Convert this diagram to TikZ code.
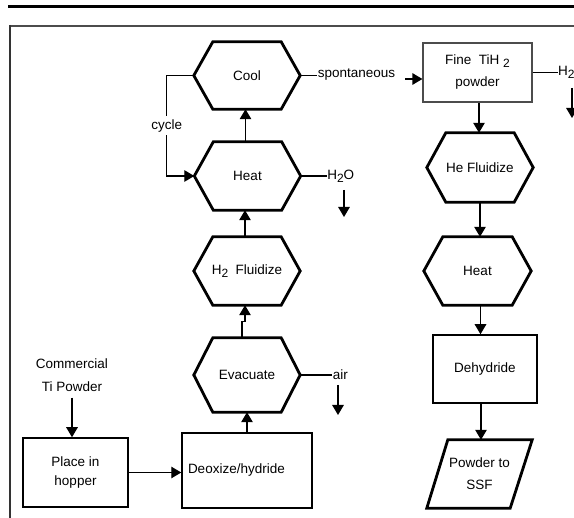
\documentclass[tikz,border=0pt]{standalone}
\usepackage{fontspec}
\setmainfont{Liberation Sans}
\usetikzlibrary{arrows.meta,calc}
\tikzset{
  every node/.style={font=\fontsize{13.5}{16}\selectfont, inner sep=0pt},
  hexbox/.style={minimum width=106pt, minimum height=67pt},
  hexline/.style={line width=2.8pt, line join=miter},
  box/.style={draw, line width=1.5pt},
  conn/.style={line width=1.2pt},
  arr/.style={line width=1.2pt, -{Triangle[width=11.5pt,length=10pt]}},
}
\newcommand\hexdraw[1]{\draw[hexline] (#1.west) -- ($(#1.north west)+(19,0)$) -- ($(#1.north east)+(-19,0)$) -- (#1.east) -- ($(#1.south east)+(-19,0)$) -- ($(#1.south west)+(19,0)$) -- cycle;}
\newcommand\sub[1]{\raisebox{-3pt}{\fontsize{12}{12}\selectfont #1}}
\begin{document}
\begin{tikzpicture}[x=1pt,y=-1pt]
\clip (0,0) rectangle (574,518);
\fill[white] (0,0) rectangle (574,518);
% frame
\draw[line width=2.2pt] (8,6.5) -- (574,6.5);
\draw[line width=2pt, black!70] (9,26) -- (574,26);
\draw[line width=1.5pt, black!80] (10,25) -- (10,518);
% hexagon nodes
\node[hexbox] (cool) at (247,75.5) {Cool};
\node[hexbox, minimum height=68pt] (heat) at (247.5,176) {Heat};
\node[hexbox, minimum height=68pt] (fluid) at (247,271) {H\sub{2}\ \ Fluidize};
\node[hexbox, minimum height=74pt] (evac) at (247,375) {Evacuate};
\node[hexbox, minimum height=69pt] (hef) at (480,167.5) {He Fluidize};
\node[hexbox, minimum height=68pt, minimum width=107pt] (heatb) at (477.5,271) {Heat};
\hexdraw{cool}\hexdraw{heat}\hexdraw{fluid}\hexdraw{evac}\hexdraw{hef}\hexdraw{heatb}
% boxes
\node[box, minimum width=105pt, minimum height=69pt, align=center, font=\fontsize{13.5}{19}\selectfont] (hop) at (75.5,472.5) {Place in\\hopper};
\node[box, minimum height=75pt, text width=118pt, inner xsep=6pt, align=left] (deox) at (247,470.5) {Deoxize/hydride};
\node[draw=black!70, line width=1.2pt, minimum width=109pt, minimum height=59pt, align=center, font=\fontsize{13.5}{22}\selectfont] (fine) at (477.5,72.5) {Fine\ \ TiH\ \sub{2}\\powder};
\node[box, minimum width=104pt, minimum height=68pt] (dehy) at (485,369) {Dehydride};
\node[minimum width=105pt, minimum height=68pt, align=center, font=\fontsize{13.5}{22}\selectfont] (ssf) at (479.5,474) {Powder to\\SSF};
\draw[hexline] ($(ssf.north west)+(21,0)$) -- (ssf.north east) -- ($(ssf.south east)+(-22,0)$) -- (ssf.south west) -- cycle;
\node[align=center, font=\fontsize{13.5}{23}\selectfont] (ctp) at (72,375) {Commercial\\Ti Powder};
% connectors main column
\draw[arr] ([xshift=-2pt]heat.north) -- ([xshift=-2pt]heat.north |- cool.south);
\draw[arr] ([xshift=-2pt]fluid.north) -- ([xshift=-2pt]fluid.north |- heat.south);
\draw[arr] ([xshift=-5pt]evac.north) -- ++(0,-16) -- ++(3,0) -- ([xshift=-2pt]fluid.south);
\draw[arr] (deox.north) -- (deox.north |- evac.south);
\draw[arr] (hop.east) -- (hop.east -| deox.west);
\draw[arr] ([yshift=-6pt]ctp.south) -- (ctp.south |- hop.north);
% cycle
\draw[conn] (cool.west) -- ++(-27,0) coordinate (c1);
\draw[arr] (c1) |- (heat.west) node[pos=0.25, fill=white, inner ysep=3pt] {cycle};
% side outputs
\draw[conn] (cool.east) -- ++(17,0) node[anchor=west, yshift=1pt] {spontaneous};
\coordinate (sp) at (405,79);
\draw[arr] (sp) -- (sp -| fine.west);
\draw[conn] (heat.east) -- ++(26,0) node[anchor=west] {H\sub{2}O};
\coordinate (w1) at (344,190);
\draw[arr] (w1) -- ++(0,27);
\draw[conn] (evac.east) -- ++(32,0) node[anchor=west] {air};
\coordinate (a1) at (338,385);
\draw[arr] (a1) -- ++(0,30);
\draw[conn] (fine.east) -- ++(25,0) node[anchor=west] {H\sub{2}};
\coordinate (h1) at (572,88);
\draw[arr] (h1) -- ++(0,30);
% right column
\draw[arr] ([xshift=1.5pt]fine.south) -- ([xshift=1.5pt]fine.south |- hef.north);
\draw[arr] (hef.south) -- (hef.south |- heatb.north);
\draw[arr] ([xshift=3pt]heatb.south) -- ([xshift=3pt]heatb.south |- dehy.north);
\draw[arr] ([xshift=-4pt]dehy.south) -- ([xshift=-4pt]dehy.south |- ssf.north);
\end{tikzpicture}
\end{document}
